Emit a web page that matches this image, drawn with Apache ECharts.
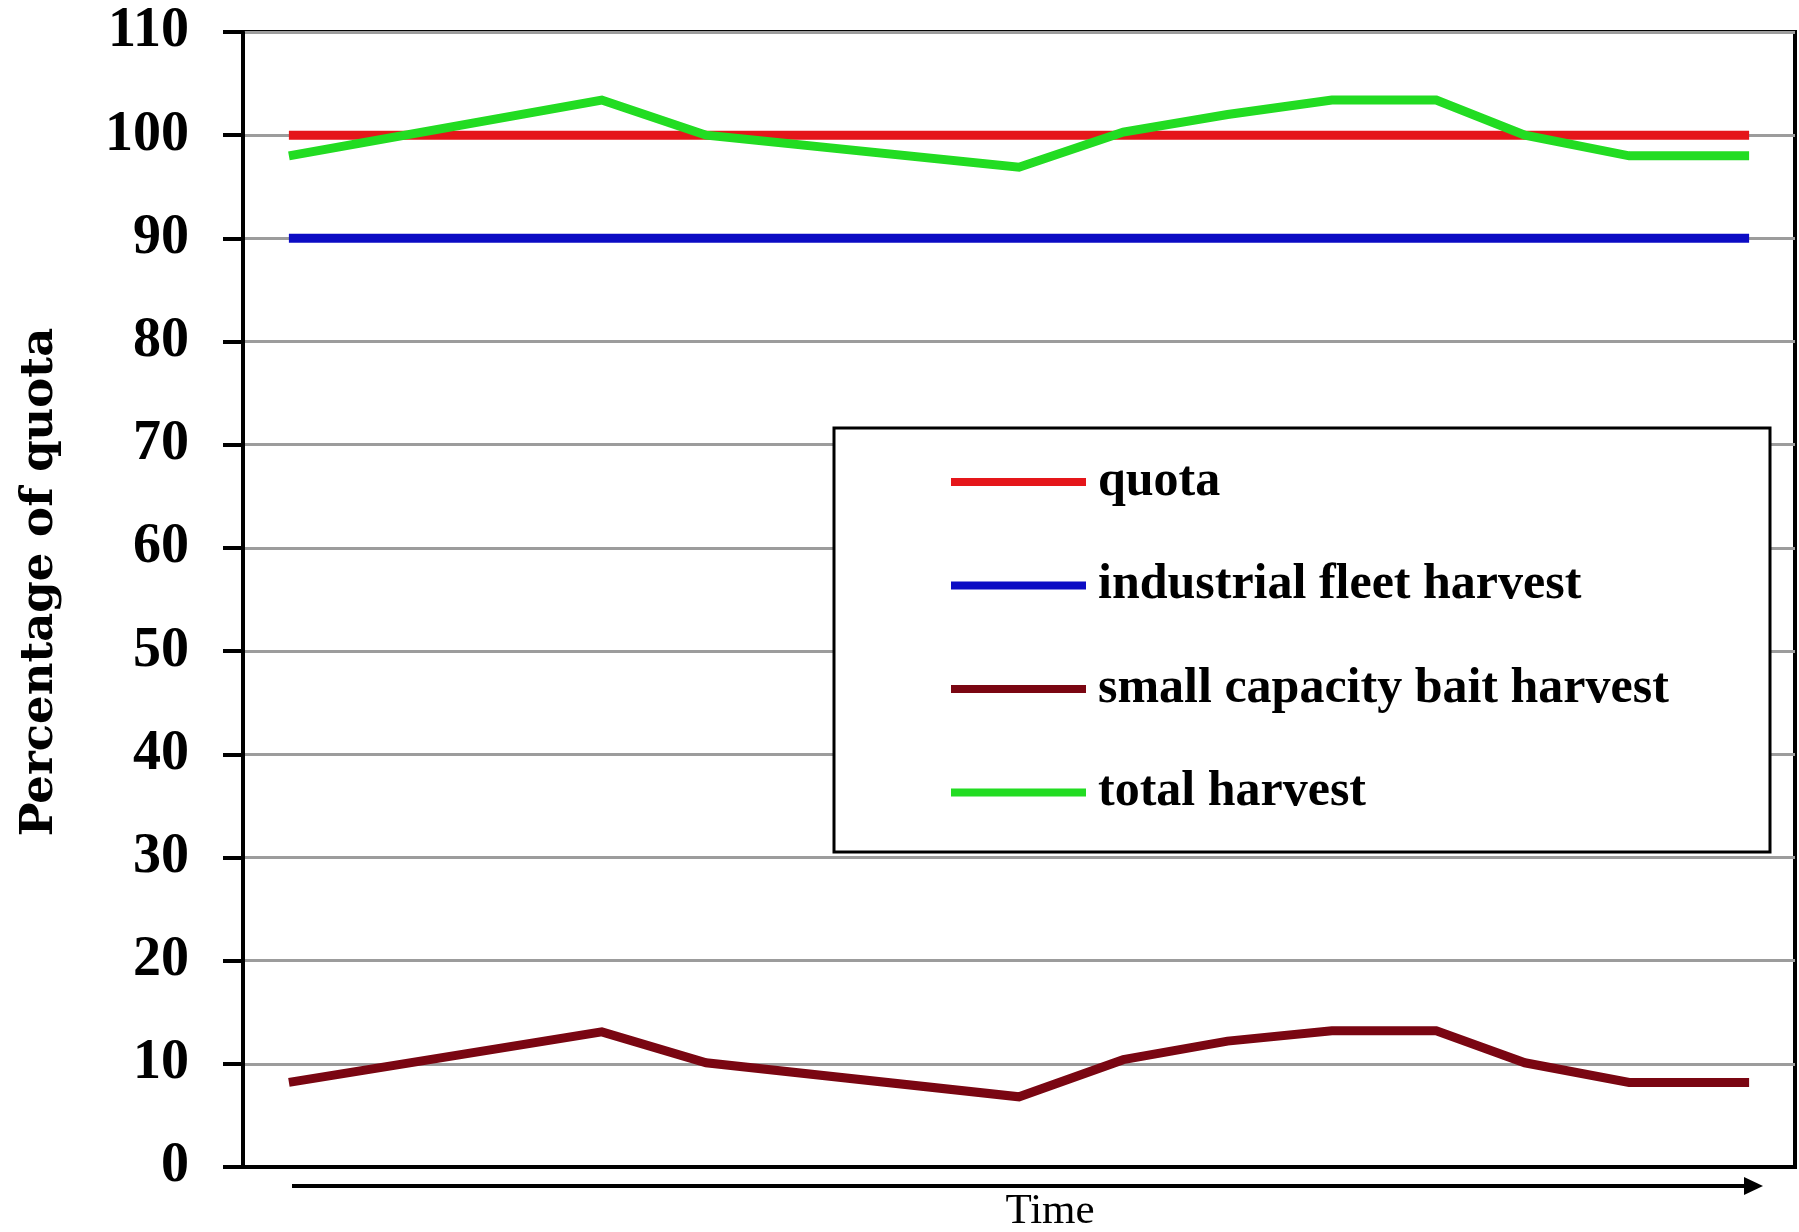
<!DOCTYPE html>
<html>
<head>
<meta charset="utf-8">
<script src="https://cdn.jsdelivr.net/npm/echarts@6/dist/echarts.min.js"></script>
<style>
  html, body { margin: 0; padding: 0; background: #ffffff; }
  #chart { width: 1799px; height: 1232px; }
</style>
</head>
<body>
<div id="chart"></div>
<script>
// Harvest as a percentage of quota over time (time in arbitrary units)
const seriesNames = ['quota', 'industrial fleet harvest', 'small capacity bait harvest', 'total harvest'];
const timePoints = [0, 3, 4, 7, 8, 9, 10, 11, 11.85, 12.85, 14];
const quota = [100, 100, 100, 100, 100, 100, 100, 100, 100, 100, 100];
const industrialHarvest = [90, 90, 90, 90, 90, 90, 90, 90, 90, 90, 90];
const smallBaitHarvest = [8.2, 13.1, 10.1, 6.8, 10.4, 12.2, 13.2, 13.2, 10.1, 8.2, 8.2];
const totalHarvest = [98, 103.4, 100, 96.9, 100.3, 102, 103.4, 103.4, 100, 98, 98];
const yTicks = [0, 10, 20, 30, 40, 50, 60, 70, 80, 90, 100, 110];

const colors = ['#e5161a', '#0c0cc4', '#7a0612', '#22dc22'];
const valueSets = [quota, industrialHarvest, smallBaitHarvest, totalHarvest];

const pairs = vals => timePoints.map((t, i) => [t, vals[i]]);

const chart = echarts.init(document.getElementById('chart'), null, { renderer: 'canvas' });

chart.setOption({
  animation: false,
  backgroundColor: '#ffffff',
  grid: {
    left: 243, right: 4, top: 32, bottom: 65,
    show: true, borderColor: '#000000', borderWidth: 4, backgroundColor: 'transparent',
    outerBoundsMode: 'none', containLabel: false
  },
  xAxis: {
    type: 'value',
    min: -0.44, max: 14.44,
    axisLine: { show: true, onZero: false, lineStyle: { color: '#000000', width: 4 } },
    axisTick: { show: false },
    axisLabel: { show: false },
    splitLine: { show: false }
  },
  yAxis: {
    type: 'value',
    min: yTicks[0], max: yTicks[yTicks.length - 1], interval: yTicks[1] - yTicks[0],
    axisLine: { show: true, onZero: false, lineStyle: { color: '#000000', width: 4 } },
    axisTick: { show: true, inside: false, length: 20, lineStyle: { color: '#000000', width: 4 } },
    axisLabel: {
      margin: 54, color: '#000000',
      fontFamily: 'Liberation Serif', fontWeight: 'bold', fontSize: 56
    },
    splitLine: { show: true, lineStyle: { color: '#9c9c9c', width: 3 } }
  },
  legend: {
    orient: 'vertical',
    left: 951, top: 457,
    padding: 0,
    itemGap: 53.5,
    itemWidth: 135, itemHeight: 8,
    icon: 'rect',
    z: 10,
    data: seriesNames,
    textStyle: {
      color: '#000000', fontFamily: 'Liberation Serif', fontWeight: 'bold',
      fontSize: 50, lineHeight: 50, padding: [0, 0, 0, 7]
    }
  },
  graphic: [
    {
      // legend frame
      type: 'rect', z: 5,
      shape: { x: 834, y: 428, width: 936, height: 424 },
      style: { fill: '#ffffff', stroke: '#000000', lineWidth: 3 }
    },
    {
      // time arrow under the axis
      type: 'line', z: 5,
      shape: { x1: 292, y1: 1186, x2: 1748, y2: 1186 },
      style: { stroke: '#000000', lineWidth: 4 }
    },
    {
      type: 'polygon', z: 5,
      shape: { points: [[1744, 1177], [1763, 1186], [1744, 1195]] },
      style: { fill: '#000000' }
    },
    {
      type: 'text', z: 5,
      x: 1050, y: 1212,
      style: {
        text: 'Time', fill: '#000000',
        font: '43px "Liberation Serif"',
        textAlign: 'center', textVerticalAlign: 'middle'
      }
    },
    {
      type: 'text', z: 5,
      x: 40, y: 582, rotation: Math.PI / 2,
      style: {
        text: 'Percentage of quota', fill: '#000000',
        font: 'bold 45px "DejaVu Serif"',
        textAlign: 'center', textVerticalAlign: 'middle'
      }
    }
  ],
  series: seriesNames.map((name, i) => ({
    name: name,
    type: 'line',
    data: pairs(valueSets[i]),
    symbol: 'none',
    showSymbol: false,
    z: 2 + i * 0.1,
    color: colors[i],
    lineStyle: { color: colors[i], width: 9, cap: 'butt', join: 'miter' },
    emphasis: { disabled: true }
  }))
});
</script>
</body>
</html>
